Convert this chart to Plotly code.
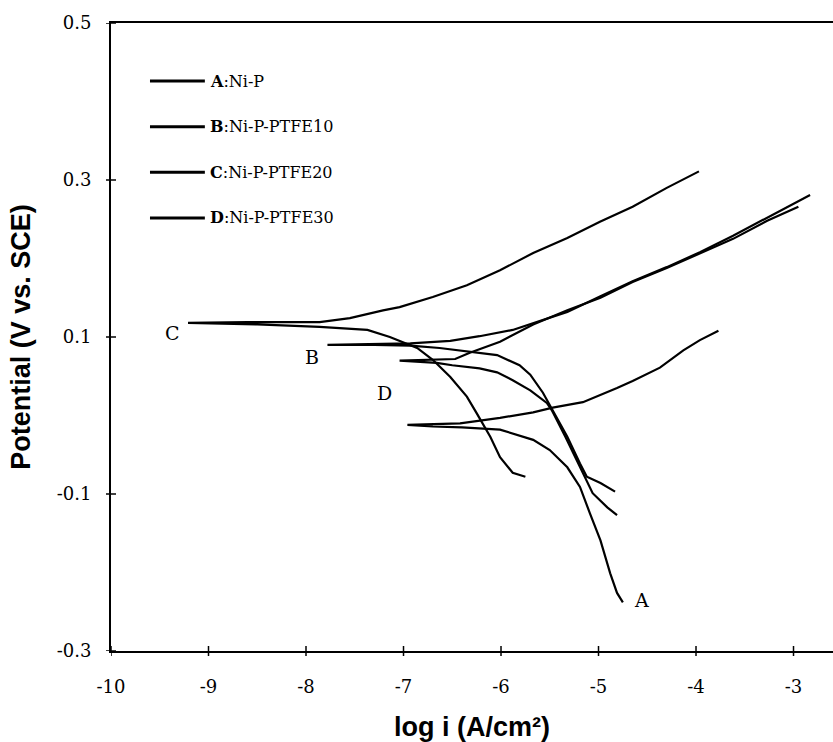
import plotly.graph_objects as go

# Tafel polarization curves: log i (A/cm2) vs potential (V vs. SCE).
# Each curve runs from the cathodic end, up to the corrosion potential,
# through the low-current dip, and out along the anodic branch.

logi_A = [-4.75, -4.81, -4.88, -4.98, -5.09, -5.19, -5.32, -5.50, -5.67, -6.01, -6.40,
          -6.70, -6.96, -6.70, -6.42, -6.01, -5.67, -5.47, -5.16, -4.81, -4.65, -4.37,
          -4.13, -3.96, -3.77]
E_A = [-0.238, -0.226, -0.201, -0.159, -0.124, -0.091, -0.066, -0.044, -0.031, -0.018, -0.015,
       -0.014, -0.012, -0.011, -0.010, -0.003, 0.004, 0.010, 0.017, 0.035, 0.044, 0.061,
       0.083, 0.096, 0.108]

logi_B = [-4.83, -4.98, -5.12, -5.19, -5.32, -5.47, -5.57, -5.70, -5.81, -6.04, -6.32,
          -6.63, -6.93, -7.30, -7.78, -7.30, -6.93, -6.52, -6.22, -5.88, -5.60, -5.32,
          -4.98, -4.65, -4.30, -3.96, -3.62, -3.27, -3.04, -2.83]
E_B = [-0.097, -0.086, -0.078, -0.061, -0.027, 0.007, 0.029, 0.052, 0.064, 0.077, 0.081,
       0.086, 0.089, 0.090, 0.090, 0.091, 0.092, 0.095, 0.101, 0.109, 0.120, 0.132,
       0.152, 0.171, 0.189, 0.208, 0.229, 0.252, 0.267, 0.281]

logi_C = [-5.75, -5.88, -6.01, -6.11, -6.25, -6.35, -6.52, -6.70, -6.86, -7.14, -7.37,
          -7.86, -8.50, -9.21, -8.60, -7.86, -7.55, -7.21, -7.04, -6.70, -6.35, -6.01,
          -5.67, -5.32, -4.98, -4.65, -4.30, -3.97]
E_C = [-0.078, -0.073, -0.053, -0.027, 0.003, 0.024, 0.049, 0.071, 0.086, 0.100, 0.109,
       0.113, 0.116, 0.118, 0.119, 0.119, 0.124, 0.134, 0.138, 0.151, 0.166, 0.185,
       0.207, 0.226, 0.247, 0.266, 0.290, 0.311]

logi_D = [-4.81, -4.91, -5.06, -5.14, -5.21, -5.34, -5.48, -5.53, -5.70, -5.88, -6.04,
          -6.22, -6.50, -6.66, -7.04, -6.70, -6.47, -6.32, -6.01, -5.67, -5.32, -4.98,
          -4.65, -4.30, -3.96, -3.62, -3.27, -2.95]
E_D = [-0.127, -0.117, -0.099, -0.078, -0.061, -0.027, 0.007, 0.016, 0.032, 0.045, 0.055,
       0.060, 0.064, 0.067, 0.070, 0.071, 0.072, 0.080, 0.094, 0.116, 0.134, 0.150,
       0.170, 0.188, 0.206, 0.225, 0.248, 0.266]

curve_letters = ["A", "B", "C", "D"]
legend_names = ["Ni-P", "Ni-P-PTFE10", "Ni-P-PTFE20", "Ni-P-PTFE30"]

# curve tags placed beside each curve (log i, E)
tag_letters = ["C", "B", "D", "A"]
tag_logi = [-9.37, -7.94, -7.19, -4.56]
tag_E = [0.105, 0.075, 0.029, -0.235]

x_tickvals = [-10, -9, -8, -7, -6, -5, -4, -3]
x_ticktext = ["-10", "-9", "-8", "-7", "-6", "-5", "-4", "-3"]
y_tickvals = [-0.3, -0.1, 0.1, 0.3, 0.5]
y_ticktext = ["-0.3", "-0.1", "0.1", "0.3", "0.5"]

X_RANGE = [-10, -2.595]
Y_RANGE = [-0.3, 0.5]

SERIF = "DejaVu Serif"
SANS = "Liberation Sans"

W, H = 833, 742
M_L, M_R, M_T, M_B = 111, 0, 23, 91
PLOT_W = W - M_L - M_R
PLOT_H = H - M_T - M_B
TICK_HALF = 5  # px on each side of the axis line

fig = go.Figure()

series = [(logi_A, E_A), (logi_B, E_B), (logi_C, E_C), (logi_D, E_D)]
for letter, name, (xs, ys) in zip(curve_letters, legend_names, series):
    fig.add_trace(go.Scatter(
        x=xs, y=ys, mode="lines",
        line=dict(color="black", width=2.2),
        name=f"{letter}:{name}", showlegend=False,
    ))

# tick marks that cross the axis lines
for tv in x_tickvals:
    fig.add_shape(type="line", xref="x", yref="paper", x0=tv, x1=tv,
                  y0=-TICK_HALF / PLOT_H, y1=TICK_HALF / PLOT_H,
                  line=dict(color="black", width=1.5))
for tv in y_tickvals:
    fig.add_shape(type="line", xref="paper", yref="y", y0=tv, y1=tv,
                  x0=-TICK_HALF / PLOT_W, x1=TICK_HALF / PLOT_W,
                  line=dict(color="black", width=1.5))

# curve tags
for t, lx, ly in zip(tag_letters, tag_logi, tag_E):
    fig.add_annotation(x=lx, y=ly, text=t, showarrow=False,
                       font=dict(family=SERIF, size=19, color="black"))

# legend drawn as line samples with text (paper coordinates)
leg_x0, leg_x1, leg_tx = 0.054, 0.130, 0.134
leg_y0, leg_dy = 0.9076, 0.0727
for i, (letter, name) in enumerate(zip(curve_letters, legend_names)):
    yy = leg_y0 - i * leg_dy
    fig.add_shape(type="line", xref="paper", yref="paper",
                  x0=leg_x0, x1=leg_x1, y0=yy, y1=yy,
                  line=dict(color="black", width=3))
    fig.add_annotation(xref="paper", yref="paper", x=leg_tx, y=yy,
                       xanchor="left", yanchor="middle", showarrow=False,
                       text=f"<b>{letter}</b>:{name}",
                       font=dict(family=SERIF, size=16, color="black"))

axis_common = dict(showgrid=False, zeroline=False, color="black", ticks="")

fig.update_layout(
    width=W, height=H,
    margin=dict(l=M_L, r=M_R, t=M_T, b=M_B),
    paper_bgcolor="white", plot_bgcolor="white",
    xaxis=dict(
        range=X_RANGE, tickvals=x_tickvals, ticktext=x_ticktext,
        showline=True, linecolor="black", linewidth=2, mirror=True,
        tickfont=dict(family=SERIF, size=18, color="black"),
        ticklabelstandoff=18,
        title=dict(text="log i (A/cm²)", standoff=24,
                   font=dict(family=SANS, size=27, color="black", weight="bold")),
        **axis_common,
    ),
    yaxis=dict(
        range=Y_RANGE, tickvals=y_tickvals, ticktext=y_ticktext,
        showline=True, linecolor="black", linewidth=2,
        tickfont=dict(family=SERIF, size=18, color="black"),
        ticklabelstandoff=14,
        title=dict(text="Potential (V vs. SCE)", standoff=18,
                   font=dict(family=SANS, size=27, color="black", weight="bold")),
        **axis_common,
    ),
    showlegend=False,
)

fig.write_html("out.html")
